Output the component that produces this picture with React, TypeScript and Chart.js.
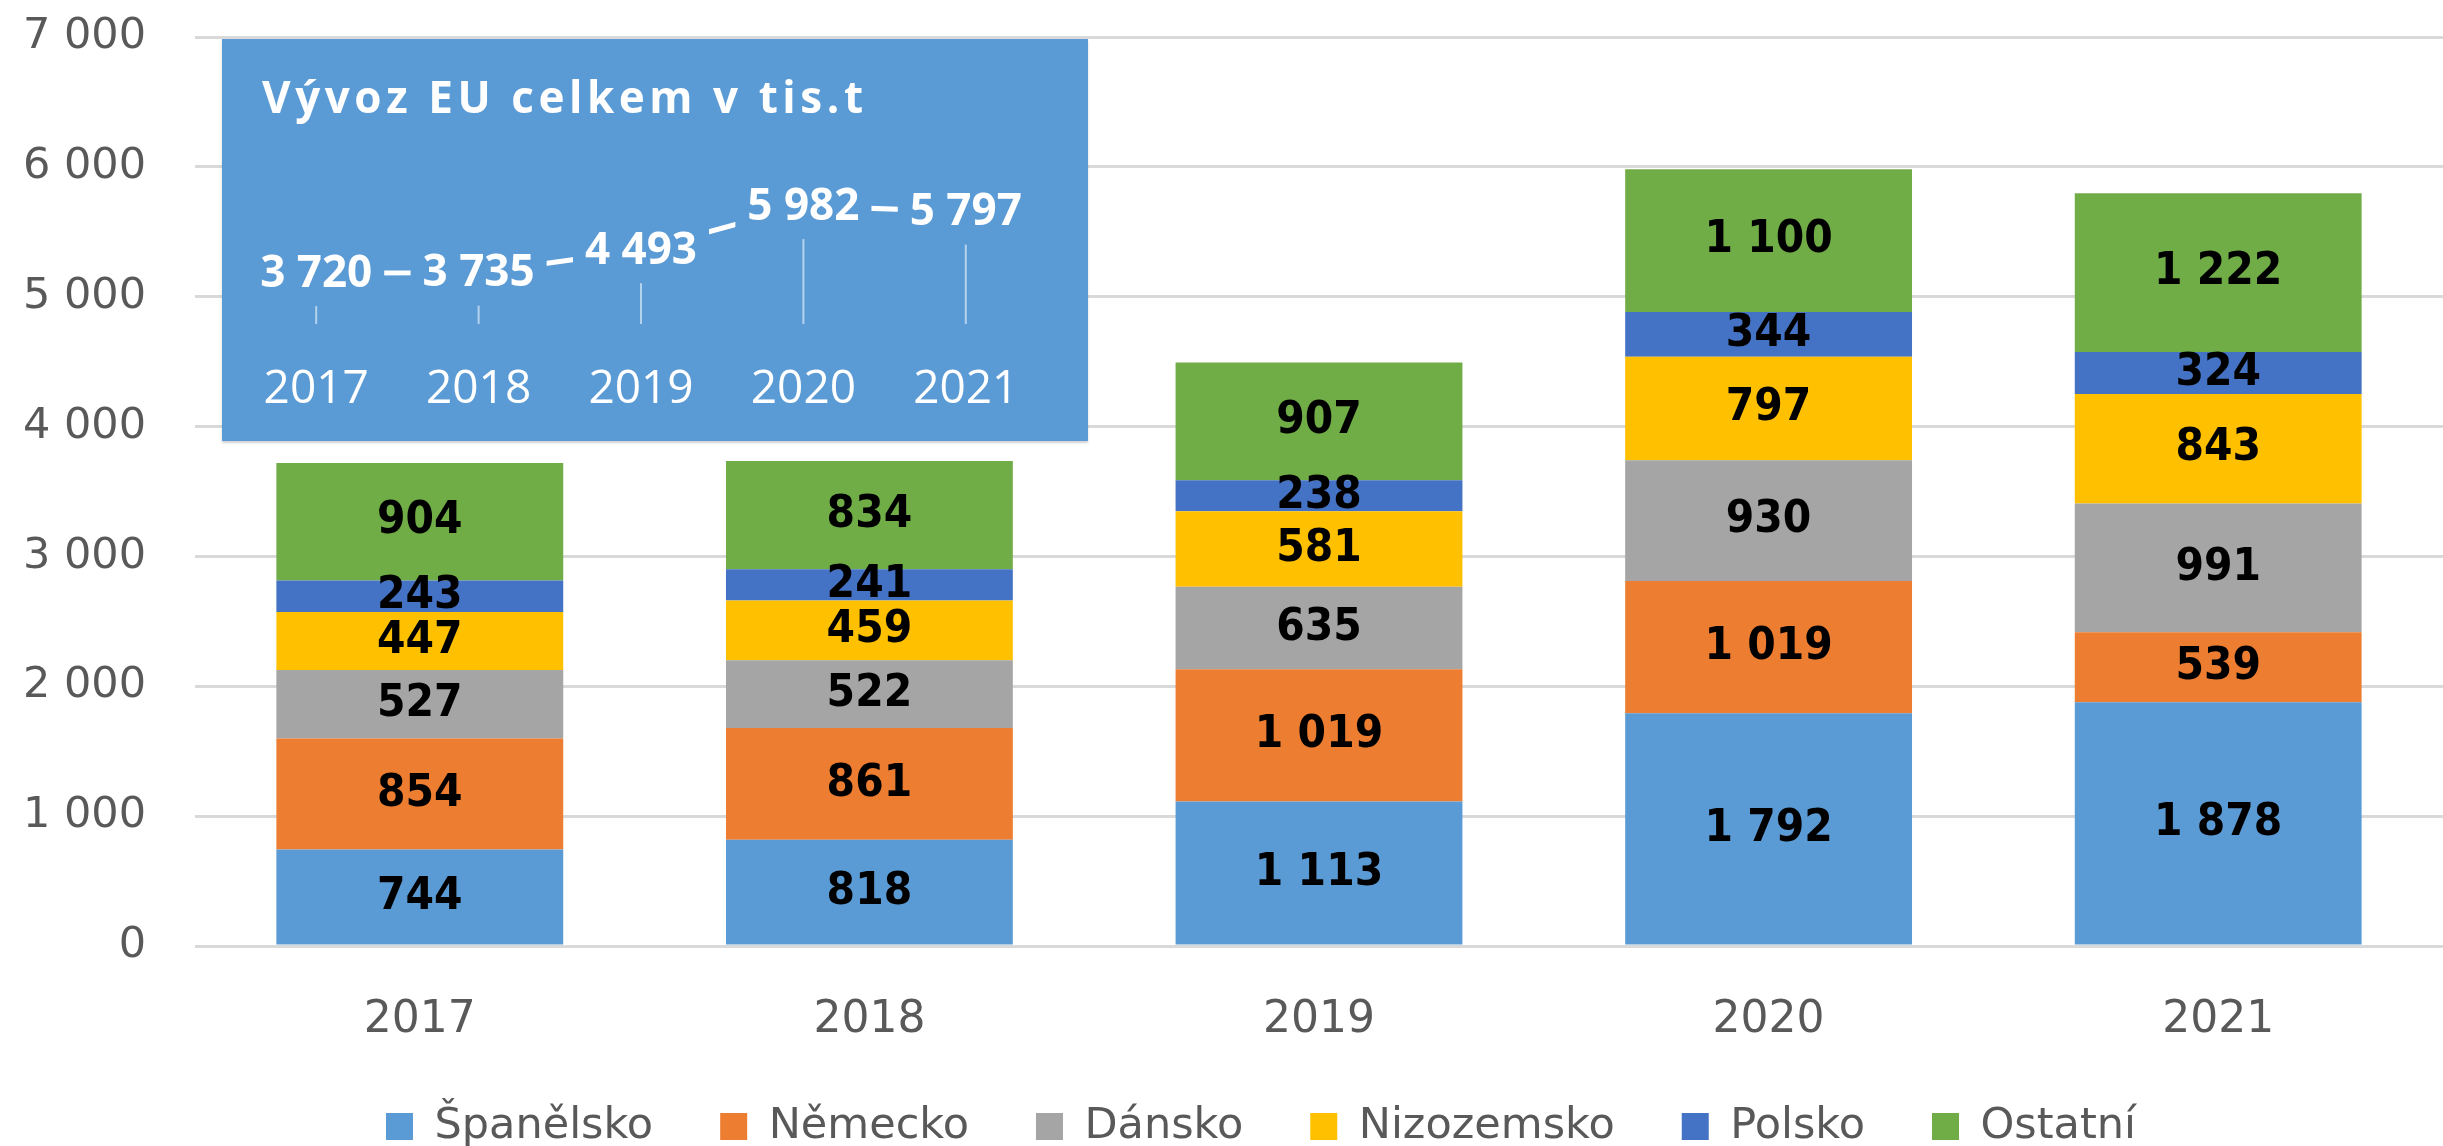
import React, { useEffect, useRef } from "react";
import { Chart, registerables } from "chart.js";

Chart.register(...registerables);

// ---- data ----
const years = ["2017", "2018", "2019", "2020", "2021"];
const spanelsko = [744, 818, 1113, 1792, 1878];
const nemecko = [854, 861, 1019, 1019, 539];
const dansko = [527, 522, 635, 930, 991];
const nizozemsko = [447, 459, 581, 797, 843];
const polsko = [243, 241, 238, 344, 324];
const ostatni = [904, 834, 907, 1100, 1222];
const totals = [3720, 3735, 4493, 5982, 5797];
const seriesNames = ["Španělsko", "Německo", "Dánsko", "Nizozemsko", "Polsko", "Ostatní"];
const seriesData = [spanelsko, nemecko, dansko, nizozemsko, polsko, ostatni];
const seriesColors = ["#5B9BD5", "#ED7D31", "#A5A5A5", "#FFC000", "#4472C4", "#70AD47"];
const yMin = 0;
const yMax = 7000;
const yStep = 1000;
const insetTitle = "Vývoz EU celkem v tis.t";

const fmt = (v: number) => String(v).replace(/\B(?=(\d{3})+(?!\d))/g, " ");

const BOX_BLUE = "#5B9BD5";

const barLabels = {
  id: "barLabels",
  afterDatasetsDraw(chart: any) {
    const ctx = chart.ctx;
    ctx.save();
    ctx.font = 'bold 41px "DejaVu Sans"';
    ctx.fillStyle = "#000000";
    ctx.textAlign = "center";
    ctx.textBaseline = "middle";
    const sy = 1.1;
    chart.data.datasets.forEach((ds: any, di: number) => {
      const meta = chart.getDatasetMeta(di);
      meta.data.forEach((bar: any, i: number) => {
        const p = bar.getProps(["x", "y", "base"], true);
        const cy = (p.y + p.base) / 2;
        ctx.save();
        ctx.translate(p.x, cy);
        ctx.scale(1, sy);
        ctx.fillText(fmt(ds.data[i]), 0, 0);
        ctx.restore();
      });
    });
    ctx.restore();
  },
};

const legendShift = {
  id: "legendShift",
  afterLayout(chart: any) {
    if (chart.legend) {
      chart.legend.left += 56;
    }
  },
};

const insetDecor = {
  id: "insetDecor",
  beforeDatasetsDraw(chart: any) {
    const ctx = chart.ctx;
    const bottom = chart.chartArea.bottom;
    ctx.save();
    ctx.strokeStyle = "rgba(255,255,255,0.55)";
    ctx.lineWidth = 2;
    chart.getDatasetMeta(0).data.forEach((pt: any) => {
      ctx.beginPath();
      ctx.moveTo(pt.x, pt.y);
      ctx.lineTo(pt.x, bottom);
      ctx.stroke();
    });
    ctx.restore();
  },
  afterDatasetsDraw(chart: any) {
    const ctx = chart.ctx;
    const ds = chart.data.datasets[0];
    ctx.save();
    ctx.font = 'bold 44px "Open Sans"';
    ctx.textAlign = "center";
    ctx.textBaseline = "middle";
    chart.getDatasetMeta(0).data.forEach((pt: any, i: number) => {
      const txt = fmt(ds.data[i]);
      const w = ctx.measureText(txt).width + 24;
      const h = 66;
      ctx.fillStyle = BOX_BLUE;
      ctx.fillRect(pt.x - w / 2, pt.y - h / 2, w, h);
      ctx.fillStyle = "#ffffff";
      ctx.fillText(txt, pt.x, pt.y + 1);
    });
    ctx.restore();
  },
  afterDraw(chart: any) {
    const ctx = chart.ctx;
    ctx.save();
    ctx.font = 'bold 44px "Open Sans"';
    ctx.fillStyle = "#ffffff";
    ctx.textAlign = "left";
    ctx.textBaseline = "alphabetic";
    const w0 = ctx.measureText(insetTitle).width;
    const ls = Math.max(0, (601 - w0) / (insetTitle.length - 1));
    (ctx as any).letterSpacing = ls + "px";
    ctx.fillText(insetTitle, 40, 74);
    ctx.restore();
  },
};

export default function App() {
  const mainRef = useRef<HTMLCanvasElement>(null);
  const insetRef = useRef<HTMLCanvasElement>(null);

  useEffect(() => {
    const main = new Chart(mainRef.current as HTMLCanvasElement, {
      type: "bar",
      data: {
        labels: years,
        datasets: seriesNames.map((name, i) => ({
          label: name,
          data: seriesData[i],
          backgroundColor: seriesColors[i],
          borderWidth: 0,
          barPercentage: 0.638,
          categoryPercentage: 1,
        })),
      },
      options: {
        responsive: false,
        animation: false,
        devicePixelRatio: 1,
        layout: { padding: { left: 23, top: 37, right: 0, bottom: 0 } },
        plugins: {
          legend: {
            position: "bottom",
            labels: {
              font: { family: "DejaVu Sans", size: 43 },
              color: "#595959",
              boxWidth: 27,
              boxHeight: 27,
              padding: 67,
            },
          },
          tooltip: { enabled: false },
        },
        scales: {
          x: {
            stacked: true,
            grid: { display: false, drawTicks: false },
            border: { display: false },
            ticks: {
              font: { family: "DejaVu Sans", size: 44 },
              color: "#595959",
              padding: 48,
              maxRotation: 0,
            },
            afterFit(scale: any) {
              scale.height = 92;
            },
          },
          y: {
            stacked: true,
            min: yMin,
            max: yMax,
            grid: { color: "#D9D9D9", lineWidth: 3, drawTicks: false },
            border: { display: false },
            ticks: {
              stepSize: yStep,
              callback: (v: any) => fmt(Number(v)),
              font: { family: "DejaVu Sans", size: 43 },
              color: "#595959",
              padding: 49,
            },
            afterFit(scale: any) {
              scale.width = 172;
              scale.paddingTop = 26;
              scale.paddingBottom = 26;
            },
          },
        },
      } as any,
      plugins: [barLabels, legendShift],
    });

    const inset = new Chart(insetRef.current as HTMLCanvasElement, {
      type: "line",
      data: {
        labels: years,
        datasets: [
          {
            label: "Celkem",
            data: totals,
            borderColor: "#ffffff",
            borderWidth: 5,
            pointRadius: 0,
            tension: 0,
            fill: false,
          },
        ],
      },
      options: {
        responsive: false,
        animation: false,
        devicePixelRatio: 1,
        layout: { padding: { left: 13, right: 41, top: 137, bottom: 22 } },
        plugins: { legend: { display: false }, tooltip: { enabled: false } },
        scales: {
          x: {
            offset: true,
            grid: { display: false, drawTicks: false },
            border: { display: false },
            ticks: {
              color: "#ffffff",
              font: { family: "Open Sans", size: 46 },
              padding: 38,
              maxRotation: 0,
            },
            afterFit(scale: any) {
              scale.height = 95;
              scale.paddingLeft = 0;
              scale.paddingRight = 0;
            },
          },
          y: { display: false, min: 2000, max: 7000 },
        },
      } as any,
      plugins: [insetDecor],
    });

    return () => {
      main.destroy();
      inset.destroy();
    };
  }, []);

  return (
    <div
      style={{
        position: "absolute",
        left: 0,
        top: 0,
        width: 2443,
        height: 1146,
        overflow: "hidden",
        background: "#ffffff",
      }}
    >
      <canvas
        ref={mainRef}
        width={2443}
        height={1158}
        style={{ position: "absolute", left: 0, top: 0, width: 2443, height: 1158 }}
      />
      <canvas
        ref={insetRef}
        width={866}
        height={402}
        style={{
          position: "absolute",
          left: 222,
          top: 39,
          width: 866,
          height: 402,
          background: BOX_BLUE,
          boxShadow: "0 2px 2px rgba(0,0,0,0.18)",
        }}
      />
    </div>
  );
}
